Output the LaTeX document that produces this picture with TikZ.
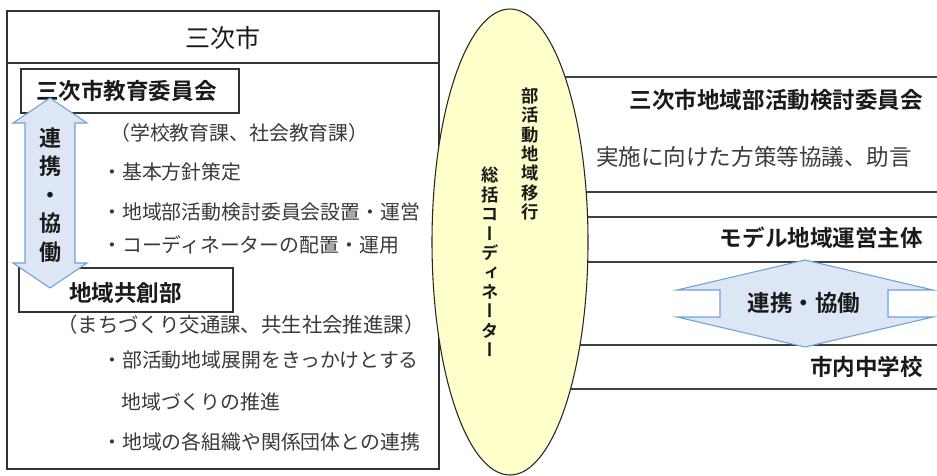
\documentclass[tikz,border=0pt]{standalone}
\usepackage{fontspec}
\setmainfont{Noto Sans CJK JP}[BoldFont={Noto Sans CJK JP Bold}]
\newfontfamily\vjp{Noto Sans CJK JP}[BoldFont={Noto Sans CJK JP Bold},RawFeature=+vert]
\usetikzlibrary{shapes.geometric}
\definecolor{arrfill}{HTML}{DCE6F4}
\definecolor{arrline}{HTML}{6FA3D8}
\definecolor{ellfill}{HTML}{FFFFCC}
\definecolor{txtgray}{HTML}{3A3A3A}
\definecolor{txtdark}{HTML}{1A1A1A}
\begin{document}
\begin{tikzpicture}[x=0.75pt,y=-0.75pt,line join=miter,
  boxline/.style={draw=black!80,line width=0.9pt},
  sepline/.style={draw=black!75,line width=0.9pt},
  blockarrow/.style={fill=arrfill,draw=arrline,line width=0.8pt},
  lefttext/.style={anchor=west,inner sep=0pt,text=txtgray,font=\fontsize{14.9}{16}\selectfont},
  righttext/.style={inner sep=0pt,text=txtgray,font=\fontsize{16.9}{19}\selectfont},
  boldleft/.style={inner sep=0pt,text=txtdark,font=\bfseries\fontsize{16.9}{19}\selectfont},
  boldright/.style={anchor=east,inner sep=0pt,text=txtdark,font=\bfseries\fontsize{16.9}{19}\selectfont},
  vcol/.style={inner sep=0pt,align=center,text=txtdark,font=\vjp\bfseries\fontsize{13}{14.6}\selectfont}]
\useasboundingbox (0,0) rectangle (937,475);
% right separator lines (covered at their left ends by the ellipse)
\foreach \yy in {77,192,217,262,345,389}
  \draw[sepline] (520,\yy) -- (937,\yy);
% left frame
\draw[boxline,fill=white] (7,11) rectangle (439,469);
\draw[boxline] (7,63) -- (439,63);
\node[inner sep=0pt,text=txtdark,font=\fontsize{18.75}{20}\selectfont] (city) at (223,38) {三次市};
% boxes
\draw[boxline,fill=white] (21,69) rectangle (239,113);
\node[boldleft,anchor=west] (boe) at (36,91) {三次市教育委員会};
\draw[boxline,fill=white] (19,268) rectangle (233,312);
\node[boldleft,anchor=west] (kyoso) at (69,293) {地域共創部};
% vertical double arrow
\draw[blockarrow] (50,98) -- (87,123) -- (75,123) -- (75,263) -- (87,263) -- (50,288)
  -- (13,263) -- (25,263) -- (25,123) -- (13,123) -- cycle;
\node[inner sep=0pt,align=center,text=txtdark,font=\bfseries\fontsize{16.5}{21.4}\selectfont] (renkei1) at (50,195) {連\\携\\・\\協\\働};
% left texts
\node[lefttext] (t1) at (110,133) {（学校教育課、社会教育課）};
\node[lefttext] (t2) at (102,172) {・基本方針策定};
\node[lefttext] (t3) at (102,212) {・地域部活動検討委員会設置・運営};
\node[lefttext] (t4) at (102,245) {・コーディネーターの配置・運用};
\node[lefttext,font=\fontsize{15.3}{16}\selectfont] (t5) at (57,325) {（まちづくり交通課、共生社会推進課）};
\node[lefttext] (t6) at (102,360) {・部活動地域展開をきっかけとする};
\node[lefttext] (t7) at (121,402) {地域づくりの推進};
\node[lefttext] (t8) at (102,442) {・地域の各組織や関係団体との連携};
% ellipse
\node[ellipse,draw=black!85,line width=0.8pt,fill=ellfill,inner sep=0pt,
  minimum width=117pt,minimum height=349.5pt] (coord) at (510,242) {};
\node[vcol] (v1) at (530,154) {部\\活\\動\\地\\域\\移\\行};
\node[vcol] (v2) at (490,262) {総\\括\\コ\\ー\\デ\\ィ\\ネ\\ー\\タ\\ー};
% right texts
\node[boldright] (kento) at (923,100) {三次市地域部活動検討委員会};
\node[righttext,anchor=west] (kyogi) at (596,157) {実施に向けた方策等協議、助言};
\node[boldright] (model) at (923,238) {モデル地域運営主体};
\node[boldright] (school) at (923,367) {市内中学校};
% up-down arrow between model and school
\draw[blockarrow] (805,260) -- (933,290) -- (888,290) -- (888,317) -- (933,317) -- (805,347)
  -- (677,317) -- (720,317) -- (720,290) -- (677,290) -- cycle;
\node[boldleft] (renkei2) at (804,303) {連携・協働};
\end{tikzpicture}
\end{document}
